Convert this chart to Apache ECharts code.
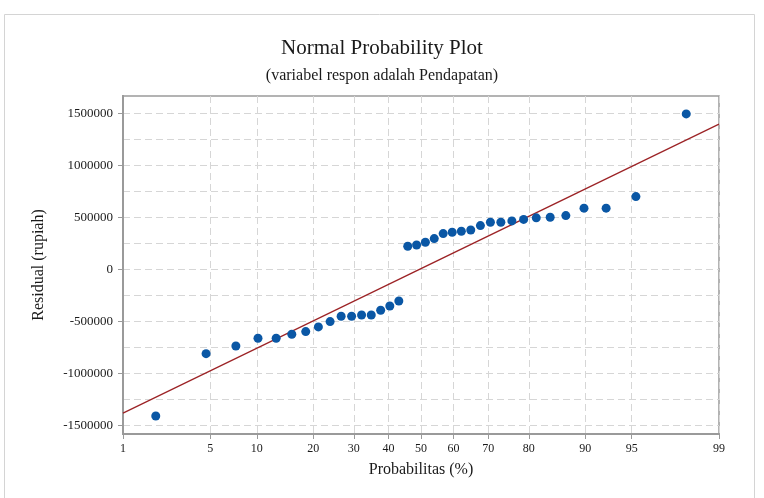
<!DOCTYPE html>
<html>
<head>
<meta charset="utf-8">
<script src="https://cdn.jsdelivr.net/npm/echarts@6/dist/echarts.min.js"></script>
<style>
html,body{margin:0;padding:0;background:#fff;}
#c{width:764px;height:498px;}
</style>
</head>
<body>
<div id="c"></div>
<script>
// ---- data ----
const probPercents = [1.92,4.67,7.42,10.16,12.91,15.66,18.41,21.15,23.90,26.65,29.40,32.14,34.89,37.64,40.38,43.13,45.88,48.63,51.37,54.12,56.87,59.62,62.36,65.11,67.86,70.60,73.35,76.10,78.85,81.59,84.34,87.09,89.84,92.58,95.33,98.08];
const residuals = [-1407000,-809000,-735000,-661000,-661000,-622000,-597000,-552000,-501000,-449000,-449000,-437000,-437000,-392000,-351000,-303000,223000,235000,261000,296000,344000,357000,367000,379000,421000,453000,453000,466000,480000,495000,501000,517000,588000,588000,699000,1493000];
const fitPercents = [1, 99];
const fitValues = [-1380000, 1395000];
const xTickPercents = [1,5,10,20,30,40,50,60,70,80,90,95,99];
const yTickLabels = [-1500000,-1000000,-500000,0,500000,1000000,1500000];
const yGridValues = [-1500000,-1250000,-1000000,-750000,-500000,-250000,0,250000,500000,750000,1000000,1250000,1500000];
const yMin = -1580000, yMax = 1665000;

// ---- probability (normal quantile) scale ----
function normInv(p){
  const a=[-3.969683028665376e+01,2.209460984245205e+02,-2.759285104469687e+02,1.383577518672690e+02,-3.066479806614716e+01,2.506628277459239e+00];
  const b=[-5.447609879822406e+01,1.615858368580409e+02,-1.556989798598866e+02,6.680131188771972e+01,-1.328068155288572e+01];
  const c=[-7.784894002430293e-03,-3.223964580411365e-01,-2.400758277161838e+00,-2.549732539343734e+00,4.374664141464968e+00,2.938163982698783e+00];
  const d=[7.784695709041462e-03,3.224671290700398e-01,2.445134137142996e+00,3.754408661907416e+00];
  const pl=0.02425, ph=1-pl; let q,r;
  if(p<pl){q=Math.sqrt(-2*Math.log(p));return (((((c[0]*q+c[1])*q+c[2])*q+c[3])*q+c[4])*q+c[5])/((((d[0]*q+d[1])*q+d[2])*q+d[3])*q+1);}
  if(p<=ph){q=p-0.5;r=q*q;return (((((a[0]*r+a[1])*r+a[2])*r+a[3])*r+a[4])*r+a[5])*q/(((((b[0]*r+b[1])*r+b[2])*r+b[3])*r+b[4])*r+1);}
  q=Math.sqrt(-2*Math.log(1-p));return -(((((c[0]*q+c[1])*q+c[2])*q+c[3])*q+c[4])*q+c[5])/((((d[0]*q+d[1])*q+d[2])*q+d[3])*q+1);
}
const toZ = p => normInv(p/100);
const xTickZ = xTickPercents.map(toZ);
const xMin = xTickZ[0], xMax = xTickZ[xTickZ.length-1];

const serif = 'Liberation Serif';
const txt = '#1a1a1a';
const gridColor = '#d6d6d6';
const axisColor = '#9a9a9a';

const chart = echarts.init(document.getElementById('c'), null, {renderer:'canvas'});
chart.setOption({
  backgroundColor:'#fff',
  animation:false,
  graphic:[{type:'rect', shape:{x:4.5,y:14.5,width:750,height:520}, style:{fill:'none', stroke:'#d4d4d4', lineWidth:1}, silent:true, z:-1}],
  title:[
    {text:'Normal Probability Plot', left:'center', top:33, textStyle:{fontFamily:serif, fontSize:21, fontWeight:'normal', color:txt}},
    {text:'(variabel respon adalah Pendapatan)', left:'center', top:63, textStyle:{fontFamily:serif, fontSize:16, fontWeight:'normal', color:txt}}
  ],
  grid:{left:123, right:45, top:96, bottom:64, show:true, borderColor:axisColor, borderWidth:1.5, backgroundColor:'transparent'},
  xAxis:{
    type:'value', min:xMin, max:xMax,
    name:'Probabilitas (%)', nameLocation:'middle', nameGap:28,
    nameTextStyle:{fontFamily:serif, fontSize:16, color:txt},
    axisLine:{show:true, onZero:false, lineStyle:{color:axisColor, width:2}},
    axisTick:{show:true, inside:false, length:5, customValues:xTickZ, lineStyle:{color:axisColor}},
    axisLabel:{customValues:xTickZ, margin:9, fontFamily:serif, fontSize:12, color:txt,
      formatter:function(v){let bi=0,bd=1e9;xTickZ.forEach((z,i)=>{const dd=Math.abs(z-v);if(dd<bd){bd=dd;bi=i;}});return String(xTickPercents[bi]);}},
    splitLine:{show:true, lineStyle:{color:gridColor, type:[7,4], width:1}}
  },
  yAxis:[{
    type:'value', min:yMin, max:yMax,
    name:'Residual (rupiah)', nameLocation:'middle', nameGap:76,
    nameTextStyle:{fontFamily:serif, fontSize:16, color:txt},
    axisLine:{show:true, onZero:false, lineStyle:{color:axisColor, width:2}},
    axisTick:{show:false, customValues:yGridValues},
    axisLabel:{customValues:yTickLabels, margin:10, fontFamily:serif, fontSize:13, color:txt,
      formatter:function(v){return String(Math.round(v));}},
    splitLine:{show:true, lineStyle:{color:gridColor, type:[7,4], width:1}}
  },{
    type:'value', min:yMin, max:yMax, position:'left', offset:0,
    axisLine:{show:true, onZero:false, lineStyle:{color:axisColor, width:2}},
    axisTick:{show:true, length:5, customValues:yTickLabels, lineStyle:{color:axisColor}},
    axisLabel:{show:false},
    splitLine:{show:false}
  }],
  series:[
    {type:'line', data:fitPercents.map((p,i)=>[toZ(p), fitValues[i]]), symbol:'none',
     lineStyle:{color:'#9c2326', width:1.3}, z:2, silent:true},
    {type:'scatter', data:probPercents.map((p,i)=>[toZ(p), residuals[i]]), symbol:'circle', symbolSize:9,
     itemStyle:{color:'#0a57a5', opacity:1}, z:3}
  ]
});
</script>
</body>
</html>
